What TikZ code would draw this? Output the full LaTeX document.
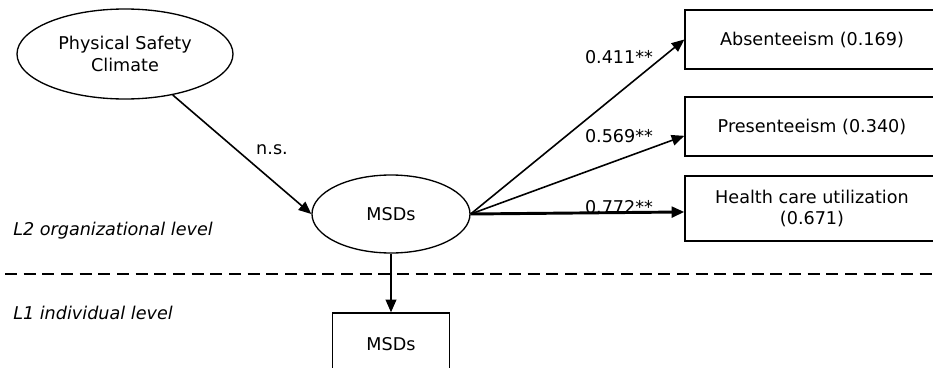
\documentclass[tikz,border=0pt]{standalone}
\usepackage{fontspec}
\setmainfont{DejaVu Sans}
\usetikzlibrary{arrows.meta,shapes.geometric}
\begin{document}
\begin{tikzpicture}[x=0.75pt,y=-0.75pt,
  every node/.style={font=\fontsize{13.2}{16}\selectfont},
  latent/.style={draw,ellipse,line width=1pt,inner sep=0pt},
  observed/.style={draw,rectangle,line width=1pt,inner sep=0pt,align=center},
  path/.style={line width=1.2pt,-{Triangle[length=9.5pt,width=8pt]}},
  thickpath/.style={line width=2.2pt,-{Triangle[length=9.5pt,width=8pt]}},
  coef/.style={inner sep=0pt},
  levellabel/.style={inner sep=0pt,anchor=west,font=\fontsize{13.2}{16}\selectfont\itshape}]
\useasboundingbox (0,0) rectangle (933,368);
\clip (0,0) rectangle (933,368);
\node[latent,minimum width=216*0.75pt,minimum height=90*0.75pt,align=center] (psc) at (125,54) {Physical Safety\\Climate};
\node[latent,minimum width=158*0.75pt,minimum height=78*0.75pt] (msd) at (391,214) {MSDs};
\node[observed,minimum width=254*0.75pt,minimum height=59*0.75pt] (abs) at (812,39.5) {Absenteeism (0.169)};
\node[observed,minimum width=254*0.75pt,minimum height=59*0.75pt] (pres) at (812,126.5) {Presenteeism (0.340)};
\node[observed,minimum width=254*0.75pt,minimum height=65*0.75pt] (hcu) at (812,208.5) {Health care utilization\\(0.671)};
\node[observed,minimum width=117*0.75pt,minimum height=62*0.75pt] (msdbox) at (391,344) {MSDs};
\draw[path] (psc) -- (msd.west);
\draw[path] (msd.east) -- (abs.west);
\draw[path] (msd.east) -- ([yshift=-7pt]pres.west);
\draw[thickpath] (msd.east) -- ([yshift=-2.6pt]hcu.west);
\draw[path] (msd.south) -- (msdbox.north);
\coordinate (dl) at (5,274);
\coordinate (dr) at (933,274);
\draw[line width=1.2pt,dash pattern=on 9pt off 5pt] (dl) -- (dr);
\node[coef] (ns) at (272,150) {n.s.};
\node[coef] (c1) at (619,57) {0.411**};
\node[coef] (c2) at (619,136) {0.569**};
\node[coef] (c3) at (619,207) {0.772**};
\node[levellabel] (l2) at (13,231) {L2 organizational level};
\node[levellabel] (l1) at (13,313) {L1 individual level};
\end{tikzpicture}
\end{document}
